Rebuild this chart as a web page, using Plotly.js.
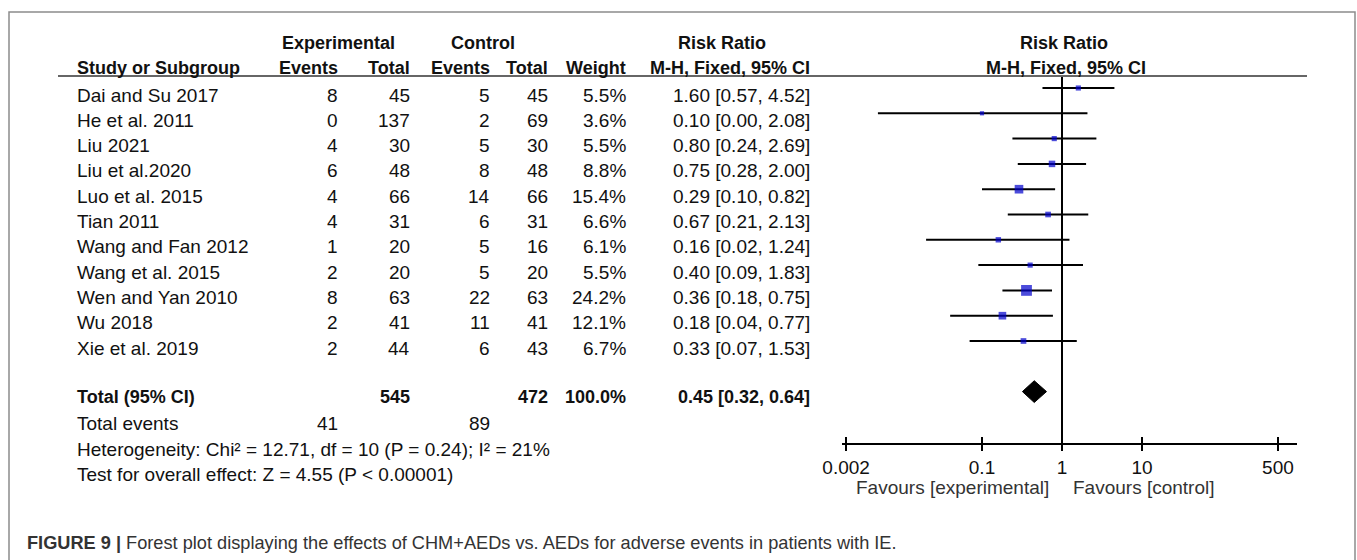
<!DOCTYPE html>
<html>
<head>
<meta charset="utf-8">
<script src="https://cdn.plot.ly/plotly-3.0.1.min.js"></script>
<style>html,body{margin:0;padding:0;background:#fff;}#chart{width:1357px;height:560px;}</style>
</head>
<body>
<div id="chart"></div>
<script>
// ---- data ----
const studies = ["Dai and Su 2017","He et al. 2011","Liu 2021","Liu et al.2020","Luo et al. 2015","Tian 2011","Wang and Fan 2012","Wang et al. 2015","Wen and Yan 2010","Wu 2018","Xie et al. 2019"];
const expEvents = [8,0,4,6,4,4,1,2,8,2,2];
const expTotal = [45,137,30,48,66,31,20,20,63,41,44];
const ctrlEvents = [5,2,5,8,14,6,5,5,22,11,6];
const ctrlTotal = [45,69,30,48,66,31,16,20,63,41,43];
const weights = [5.5,3.6,5.5,8.8,15.4,6.6,6.1,5.5,24.2,12.1,6.7];
const rr = [1.60,0.10,0.80,0.75,0.29,0.67,0.16,0.40,0.36,0.18,0.33];
const ciLow = [0.57,0.005,0.24,0.28,0.10,0.21,0.02,0.09,0.18,0.04,0.07];
const ciHigh = [4.52,2.08,2.69,2.00,0.82,2.13,1.24,1.83,0.75,0.77,1.53];
const ciText = ["1.60 [0.57, 4.52]","0.10 [0.00, 2.08]","0.80 [0.24, 2.69]","0.75 [0.28, 2.00]","0.29 [0.10, 0.82]","0.67 [0.21, 2.13]","0.16 [0.02, 1.24]","0.40 [0.09, 1.83]","0.36 [0.18, 0.75]","0.18 [0.04, 0.77]","0.33 [0.07, 1.53]"];
const total = {label:"Total (95% CI)", expTotal:545, ctrlTotal:472, weight:"100.0%", rr:0.45, lo:0.32, hi:0.64, text:"0.45 [0.32, 0.64]"};
const totalEvents = [41, 89];
const heterogeneity = "Heterogeneity: Chi² = 12.71, df = 10 (P = 0.24); I² = 21%";
const overallTest = "Test for overall effect: Z = 4.55 (P < 0.00001)";
const tickVals = [0.002, 0.1, 1, 10, 500];
const tickText = ["0.002", "0.1", "1", "10", "500"];
const refValue = [1];
const caption = "<b>FIGURE 9 |</b> Forest plot displaying the effects of CHM+AEDs vs. AEDs for adverse events in patients with IE.";

// ---- layout helpers ----
const W = 1357, H = 560;
const FONT = "Liberation Sans, Arial, sans-serif";
const TXT = "#111";
const FS = 19, FSB = 18;
const px = x => x / W;
const py = y => 1 - y / H;
const rowTextY = i => py(95 + 25.3 * i);
const rows = studies.map((s, i) => i);
const TOTAL_ROW = 12;
const yTop = (77 - 88) / 25.3, yBottom = (443 - 88) / 25.3;

const ann = [];
function addText(text, x, y, anchor, bold, size, color) {
  ann.push({text: bold ? "<b>" + text + "</b>" : text, x: px(x), y: y, xref: "paper", yref: "paper",
    xanchor: anchor, yanchor: "middle", showarrow: false,
    font: {family: FONT, size: size || (bold ? FSB : FS), color: color || TXT}});
}
// headers
const h1 = py(43), h2 = py(68);
addText("Experimental", 338, h1, "center", true);
addText("Control", 483, h1, "center", true);
addText("Risk Ratio", 722, h1, "center", true);
addText("Risk Ratio", 1064, h1, "center", true);
addText("Study or Subgroup", 75, h2, "left", true);
addText("Events", 340, h2, "right", true);
addText("Total", 412, h2, "right", true);
addText("Events", 492, h2, "right", true);
addText("Total", 550, h2, "right", true);
addText("Weight", 628, h2, "right", true);
addText("M-H, Fixed, 95% CI", 812, h2, "right", true);
addText("M-H, Fixed, 95% CI", 1066, h2, "center", true);
// study rows
studies.forEach((s, i) => {
  const y = rowTextY(i);
  addText(s, 75, y, "left");
  addText(String(expEvents[i]), 340, y, "right");
  addText(String(expTotal[i]), 412, y, "right");
  addText(String(ctrlEvents[i]), 492, y, "right");
  addText(String(ctrlTotal[i]), 550, y, "right");
  addText(weights[i].toFixed(1) + "%", 628, y, "right");
  addText(ciText[i], 812, y, "right");
});
// totals
const ty = py(95 + 25.3 * TOTAL_ROW - 2);
addText(total.label, 75, ty, "left", true);
addText(String(total.expTotal), 412, ty, "right", true);
addText(String(total.ctrlTotal), 550, ty, "right", true);
addText(total.weight, 628, ty, "right", true);
addText(total.text, 812, ty, "right", true);
addText("Total events", 75, rowTextY(13), "left");
addText(String(totalEvents[0]), 340, rowTextY(13), "right");
addText(String(totalEvents[1]), 492, rowTextY(13), "right");
addText(heterogeneity, 75, rowTextY(14), "left");
addText(overallTest, 75, rowTextY(15), "left");
// favours
addText("Favours [experimental]", 1051, py(487), "right", false, FS, "#333");
addText("Favours [control]", 1071, py(487), "left", false, FS, "#333");
// caption
addText(caption, 25, py(543), "left", false, 18.2, "#333");

// ---- traces ----
const diamondH = 0.43;
const traces = [
  {
    type: "scatter", mode: "lines", xaxis: "x2", yaxis: "y",
    x: [refValue[0], refValue[0]], y: [yTop, yBottom],
    line: {color: "#000", width: 2}, hoverinfo: "skip", cliponaxis: false
  },
  {
    type: "scatter", mode: "markers", x: rr, y: rows, xaxis: "x", yaxis: "y",
    error_x: {type: "data", symmetric: false,
      array: rr.map((v, i) => ciHigh[i] - v),
      arrayminus: rr.map((v, i) => v - ciLow[i]),
      color: "#000", thickness: 2, width: 0},
    marker: {symbol: "square", color: "#0000cc", size: weights.map(w => 2.2 * Math.sqrt(w)), line: {width: 0}},
    hoverinfo: "skip", cliponaxis: false
  },
  {
    type: "scatter", mode: "lines", xaxis: "x2", yaxis: "y",
    x: [total.lo, total.rr, total.hi, total.rr, total.lo],
    y: [TOTAL_ROW, TOTAL_ROW - diamondH, TOTAL_ROW, TOTAL_ROW + diamondH, TOTAL_ROW],
    fill: "toself", fillcolor: "#000", line: {color: "#000", width: 1}, hoverinfo: "skip"
  }
];

const xr = [-2.75, 2.9375];
const layout = {
  width: W, height: H, margin: {l: 0, r: 0, t: 0, b: 0},
  paper_bgcolor: "#fff", plot_bgcolor: "rgba(0,0,0,0)", showlegend: false,
  xaxis: {type: "log", range: xr, domain: [px(842), px(1297)], anchor: "y",
    tickvals: tickVals, ticktext: tickText, ticks: "outside", ticklen: 6, tickwidth: 2, tickcolor: "#000",
    showline: true, linecolor: "#000", linewidth: 2, showgrid: false, zeroline: false,
    tickfont: {family: FONT, size: FS, color: TXT}, fixedrange: true},
  xaxis2: {type: "log", range: xr, overlaying: "x", anchor: "y", side: "bottom",
    tickvals: tickVals, ticks: "inside", ticklen: 6, tickwidth: 2, tickcolor: "#000",
    showticklabels: false, showline: false, showgrid: false, zeroline: false, fixedrange: true},
  yaxis: {domain: [py(443), py(77)], range: [yBottom, yTop],
    visible: false, showgrid: false, zeroline: false, fixedrange: true},
  shapes: [
    {type: "rect", xref: "paper", yref: "paper", x0: px(9), x1: px(1355), y0: -0.1, y1: py(12),
      line: {color: "#8c8c8c", width: 1.5}, layer: "below"},
    {type: "line", xref: "paper", yref: "paper", x0: px(58), x1: px(1307), y0: py(76), y1: py(76),
      line: {color: "#333", width: 1.5}}
  ],
  annotations: ann
};
Plotly.newPlot("chart", traces, layout, {displayModeBar: false, staticPlot: true});
</script>
</body>
</html>
